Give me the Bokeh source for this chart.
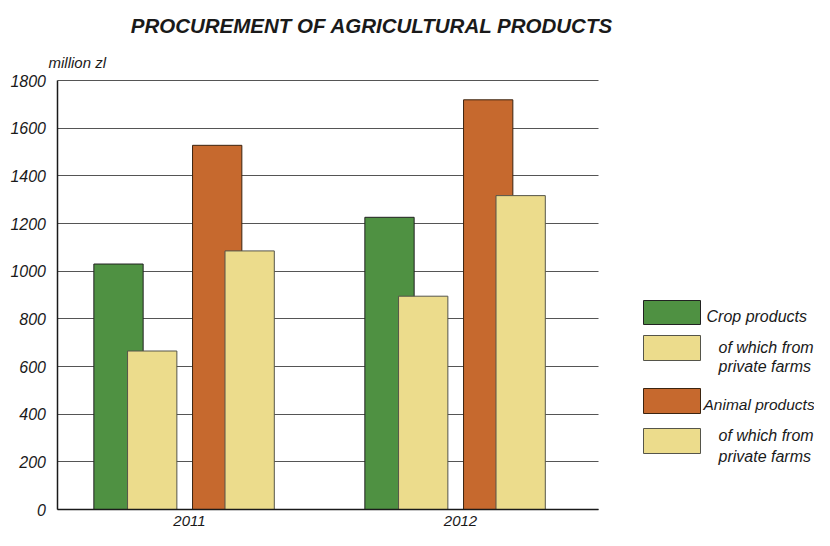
from bokeh.plotting import figure
from bokeh.models import Range1d, FixedTicker, Label, BoxAnnotation, ColumnDataSource
from bokeh.transform import dodge
from bokeh.embed import file_html
from bokeh.resources import INLINE

# ---- data ----
years = [2011, 2012]
crop = [1030, 1226]
crop_private = [665, 895]
animal = [1528, 1719]
animal_private = [1085, 1317]
y_ticks = [0, 200, 400, 600, 800, 1000, 1200, 1400, 1600, 1800]

title_text = "PROCUREMENT  OF  AGRICULTURAL  PRODUCTS"
unit_text = "million zl"
legend_labels = ["Crop products", "of which from\nprivate farms",
                 "Animal products", "of which from\nprivate farms"]

GREEN = "#4f9142"
ORANGE = "#c6692e"
YELLOW = "#ecdc8c"
FONT = "Liberation Sans"

src = ColumnDataSource(dict(year=years, crop=crop, crop_private=crop_private,
                            animal=animal, animal_private=animal_private))

# ---- layout: the frame covers the whole figure; coordinates in picture px ----
W, H = 814, 530
PXU = 271                     # px per year
YEAR_X = 189                  # x of the first year's tick
ZERO_Y = 509                  # y of value 0
TOP_Y = 80                    # y of value 1800
PXV = (ZERO_Y - TOP_Y) / 1800 # px per million zl
AXIS_X = 56.5                 # x of the value axis
PLOT_R = 598                  # x of the right end of the grid

x_start = years[0] - YEAR_X / PXU
x_end = x_start + W / PXU
x_axis = x_start + AXIS_X / PXU
x_right = x_start + PLOT_R / PXU
y_end = ZERO_Y / PXV
y_start = -(H - ZERO_Y) / PXV

p = figure(frame_width=W, frame_height=H, output_backend="svg", toolbar_location=None,
           x_range=Range1d(x_start, x_end), y_range=Range1d(y_start, y_end),
           min_border=0)
p.outline_line_color = None
p.background_fill_color = "white"

bw = 49.3 / PXU
p.vbar(x=dodge("year", -0.262, range=p.x_range), top="crop", width=bw, bottom=0,
       source=src, fill_color=GREEN, line_color="#222222", line_width=1)
p.vbar(x=dodge("year", -0.1376, range=p.x_range), top="crop_private", width=bw, bottom=0,
       source=src, fill_color=YELLOW, line_color="#55554a", line_width=1)
p.vbar(x=dodge("year", 0.1022, range=p.x_range), top="animal", width=bw, bottom=0,
       source=src, fill_color=ORANGE, line_color="#3b2410", line_width=1)
p.vbar(x=dodge("year", 0.222, range=p.x_range), top="animal_private", width=bw, bottom=0,
       source=src, fill_color=YELLOW, line_color="#55554a", line_width=1)

# axes drawn at fixed locations inside the frame
p.yaxis.ticker = FixedTicker(ticks=y_ticks)
p.xaxis.ticker = FixedTicker(ticks=years)
p.yaxis.fixed_location = x_axis
p.xaxis.fixed_location = 0
p.yaxis.bounds = (0, 1800)
p.xaxis.bounds = (x_axis, x_right)
for ax in (p.xaxis, p.yaxis):
    ax.major_tick_line_color = None
    ax.minor_tick_line_color = None
    ax.axis_line_color = "#1a1a1a"
    ax.axis_line_width = 1.5
    ax.major_label_text_font = FONT
    ax.major_label_text_font_style = "italic"
    ax.major_label_text_color = "#1a1a1a"
p.yaxis.major_label_text_font_size = "16px"
p.xaxis.major_label_text_font_size = "15px"
p.yaxis.major_label_standoff = 5
p.xaxis.major_label_standoff = 0
p.xgrid.grid_line_color = None
p.ygrid.ticker = FixedTicker(ticks=y_ticks)
p.ygrid.grid_line_color = "#555555"
p.ygrid.grid_line_width = 1.1
p.ygrid.cross_bounds = (x_axis, x_right)

def lab(text, px, py, size="16px", style="italic", align="left"):
    # px, py: picture px of the text anchor (baseline) -> frame screen units
    p.add_layout(Label(x=px, y=H - py, x_units="screen", y_units="screen",
                       text=text, text_font=FONT, text_font_size=size,
                       text_font_style=style, text_align=align,
                       text_baseline="alphabetic", text_color="#1a1a1a"))

lab(title_text, 380, 25, size="20.5px", style="bold italic", align="center")
lab(unit_text, 48, 62, size="15px")

# legend swatches (picture px: left, right, top, bottom)
sw_colors = [GREEN, YELLOW, ORANGE, YELLOW]
sw_lines = ["#222222", "#55554a", "#3b2410", "#55554a"]
sw_pos = [(643, 700, 300, 324), (643, 700, 335, 360), (643, 700, 388, 413), (643, 700, 428, 453)]
for c, lc, (l, r, t, b) in zip(sw_colors, sw_lines, sw_pos):
    p.add_layout(BoxAnnotation(left=l, right=r, top=H - t, bottom=H - b,
                               left_units="screen", right_units="screen",
                               top_units="screen", bottom_units="screen",
                               fill_color=c, fill_alpha=1, line_color=lc,
                               line_alpha=1, line_width=1))

txt_pos = [(706, [316], "16px"), (718, [347, 366], "16px"),
           (703, [404], "15.5px"), (718, [435, 456], "16px")]
for text, (x, ys, fs) in zip(legend_labels, txt_pos):
    for line, y in zip(text.split("\n"), ys):
        lab(line, x, y, size=fs)

open("out.html", "w").write(file_html(p, INLINE))
